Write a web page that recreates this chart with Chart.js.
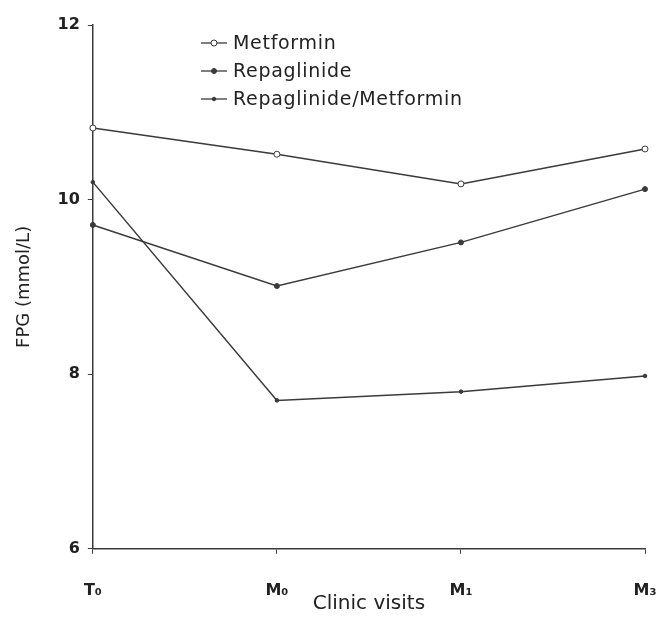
<!DOCTYPE html>
<html>
<head>
<meta charset="utf-8">
<script src="https://cdn.jsdelivr.net/npm/chart.js@4/dist/chart.umd.min.js"></script>
<style>
  html, body { margin: 0; padding: 0; background: #fff; }
  #wrap { width: 663px; height: 620px; position: relative; }
</style>
</head>
<body>
<div id="wrap"><canvas id="fpgChart"></canvas></div>
<script>
var visits = ["T\u2080", "M\u2080", "M\u2081", "M\u2083"];
var metformin = [10.82, 10.52, 10.18, 10.58];
var repaglinide = [9.71, 9.01, 9.51, 10.12];
var combo = [10.2, 7.7, 7.8, 7.98];
var yTicks = [6, 8, 10, 12];

var ink = "#3a3a3a";
var font = "'DejaVu Sans', 'Liberation Sans', sans-serif";

// legend drawn like the original: short line, marker, label
var lineLegend = {
  id: "lineLegend",
  afterDraw: function(chart) {
    var ctx = chart.ctx;
    ctx.save();
    ctx.font = "19px " + font;
    ctx.letterSpacing = "0.7px";
    ctx.textBaseline = "middle";
    chart.data.datasets.forEach(function(ds, i) {
      var y = 43 + i * 28;
      var x0 = 201, x1 = 227;
      ctx.strokeStyle = ink;
      ctx.lineWidth = 1.3;
      ctx.beginPath(); ctx.moveTo(x0, y); ctx.lineTo(x1, y); ctx.stroke();
      ctx.beginPath();
      ctx.arc((x0 + x1) / 2, y, ds.pointRadius, 0, Math.PI * 2);
      ctx.fillStyle = ds.pointBackgroundColor;
      ctx.fill();
      ctx.lineWidth = 1;
      ctx.stroke();
      ctx.fillStyle = "#222";
      ctx.fillText(ds.label, 233, y + 1);
    });
    ctx.restore();
  }
};

new Chart("fpgChart", {
  type: "line",
  data: {
    labels: visits,
    datasets: [
      { label: "Metformin", data: metformin, borderColor: ink, borderWidth: 1.5,
        pointRadius: 3, pointBackgroundColor: "#fff", pointBorderColor: ink, pointBorderWidth: 1 },
      { label: "Repaglinide", data: repaglinide, borderColor: ink, borderWidth: 1.5,
        pointRadius: 2.5, pointBackgroundColor: ink, pointBorderColor: ink, pointBorderWidth: 1 },
      { label: "Repaglinide/Metformin", data: combo, borderColor: ink, borderWidth: 1.5,
        pointRadius: 1.8, pointBackgroundColor: ink, pointBorderColor: ink, pointBorderWidth: 1 }
    ]
  },
  options: {
    responsive: true,
    maintainAspectRatio: false,
    animation: false,
    layout: { padding: { top: 25, right: 18, left: 10, bottom: 0 } },
    plugins: {
      legend: { display: false },
      tooltip: { enabled: false }
    },
    scales: {
      x: {
        offset: false,
        // let the last label run off the edge, as in the original
        afterFit: function(scale) { scale.paddingRight = 0; },
        border: { color: ink, width: 1.5 },
        grid: { display: true, drawOnChartArea: false, tickLength: 5, color: ink },
        ticks: { color: "#222", font: { family: font, size: 16, weight: "bold" }, padding: 27, maxRotation: 0 },
        title: { display: true, text: "Clinic visits", color: "#222", font: { family: font, size: 20 }, padding: { top: -35 } }
      },
      y: {
        min: 6, max: 12,
        afterBuildTicks: function(axis) {
          axis.ticks = yTicks.map(function(v) { return { value: v }; });
        },
        border: { color: ink, width: 1.5 },
        grid: { display: true, drawOnChartArea: false, tickLength: 5, color: ink },
        ticks: { color: "#222", font: { family: font, size: 16, weight: "bold" }, padding: 8 },
        title: { display: true, text: "FPG (mmol/L)", color: "#222", font: { family: font, size: 18 }, padding: { bottom: 14 } }
      }
    }
  },
  plugins: [lineLegend]
});
</script>
</body>
</html>
